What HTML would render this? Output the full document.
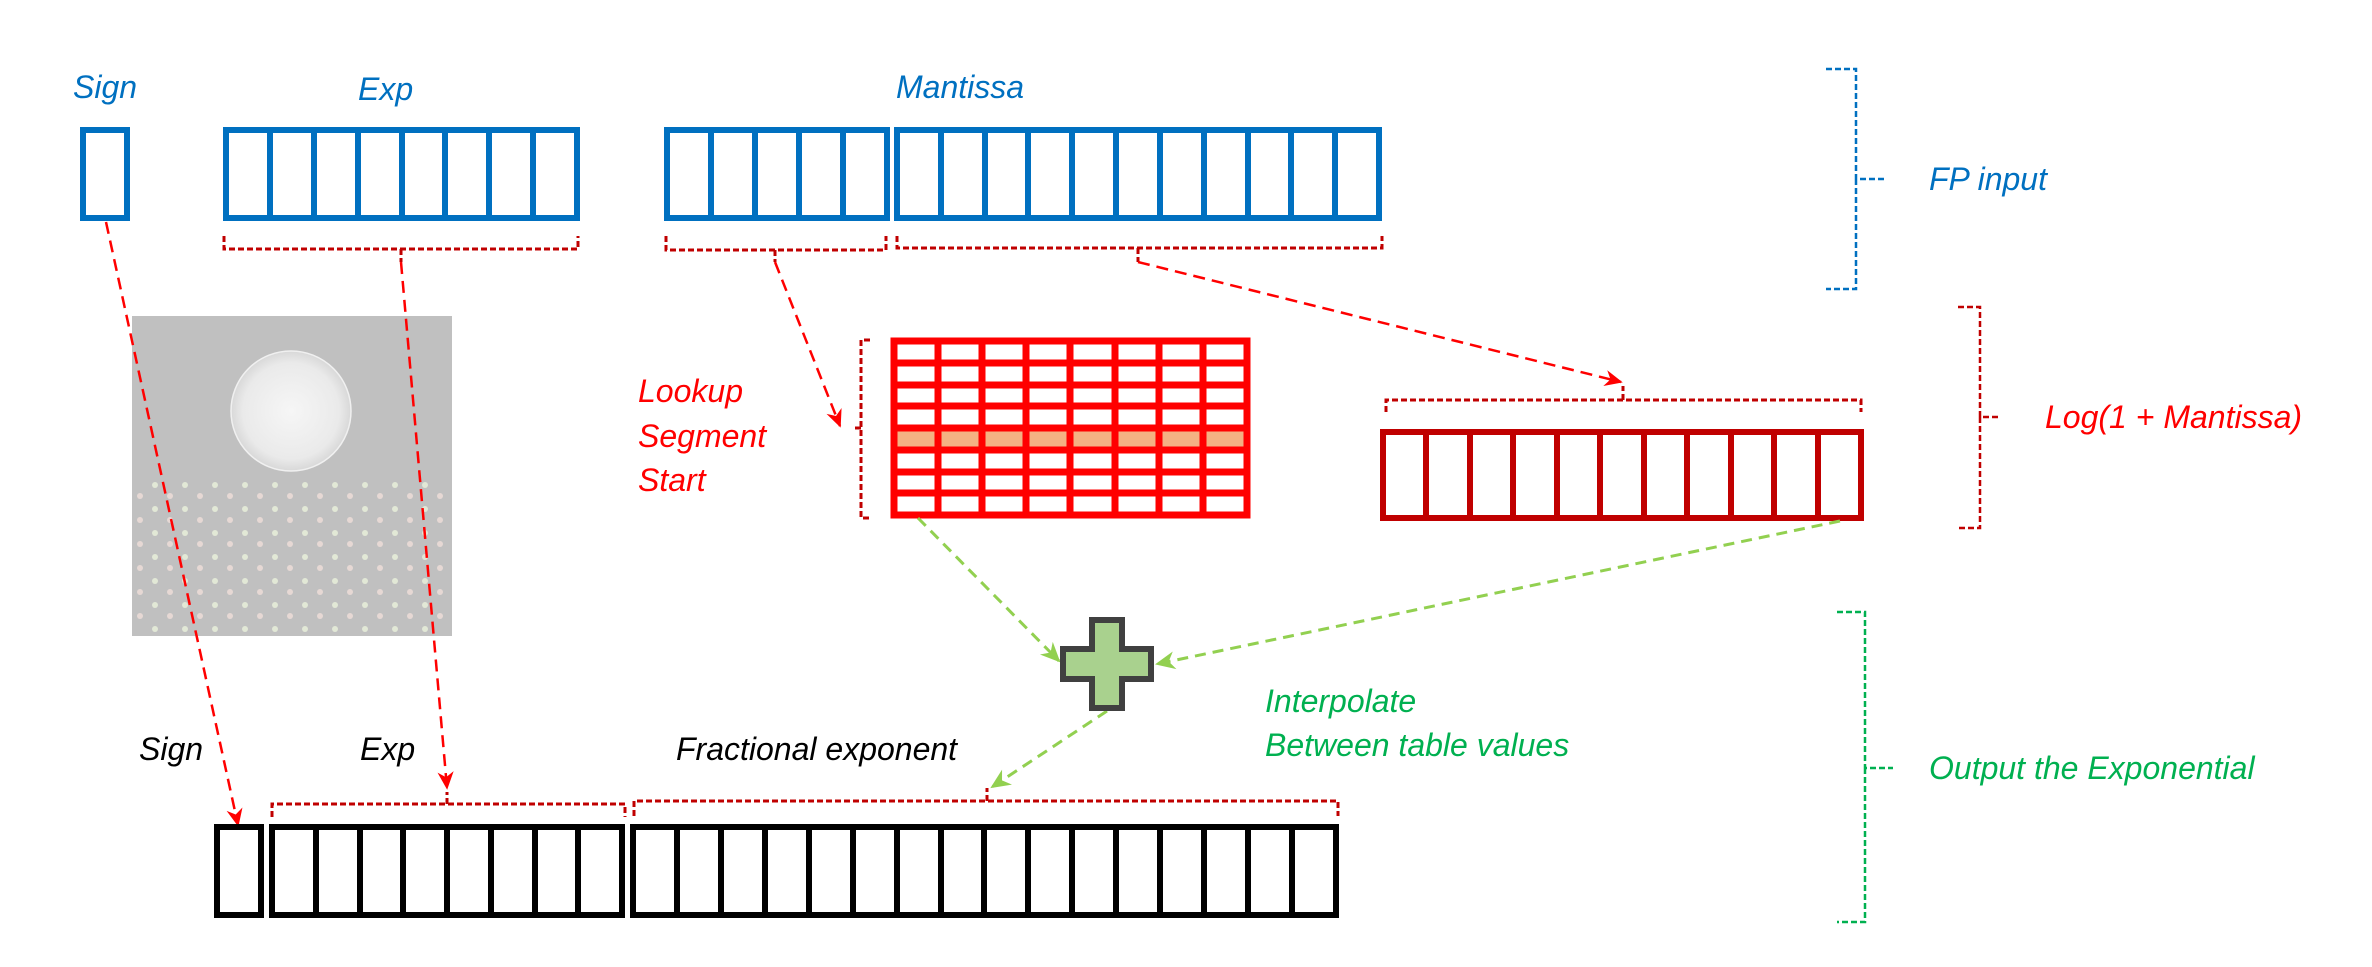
<!DOCTYPE html>
<html><head><meta charset="utf-8"><style>
html,body{margin:0;padding:0;background:#fff;}
svg{display:block;}
text{font-family:"Liberation Sans",sans-serif;font-style:italic;font-size:32px;}
</style></head><body>
<svg width="2372" height="967" viewBox="0 0 2372 967" xmlns="http://www.w3.org/2000/svg">
<defs>
<marker id="ar" viewBox="0 0 20 20" refX="18" refY="10" markerWidth="18" markerHeight="18" markerUnits="userSpaceOnUse" orient="auto" overflow="visible">
<path d="M0,1 L20,10 L0,19 L6,10 Z" fill="#ff0000"/></marker>
<marker id="ag" viewBox="0 0 20 20" refX="18" refY="10" markerWidth="20" markerHeight="20" markerUnits="userSpaceOnUse" orient="auto" overflow="visible">
<path d="M0,1 L20,10 L0,19 L6,10 Z" fill="#92d050"/></marker>
<radialGradient id="sph" cx="0.5" cy="0.5" r="0.5"><stop offset="0" stop-color="#f6f6f6"/><stop offset="0.8" stop-color="#eaeaea"/><stop offset="1" stop-color="#d8d8d8"/></radialGradient>
<pattern id="dots" width="30" height="24" patternUnits="userSpaceOnUse">
<circle cx="5" cy="5" r="3" fill="#e2e8d6"/><circle cx="20" cy="16" r="3" fill="#e6d8d4"/>
</pattern>
</defs>

<rect x="132" y="316" width="320" height="320" fill="#c0c0c0"/>
<rect x="132" y="478" width="320" height="158" fill="url(#dots)"/>
<circle cx="291" cy="411" r="60" fill="url(#sph)" stroke="#f0f0f0" stroke-width="1.5"/>

<text x="73" y="98" fill="#0070c0">Sign</text>
<text x="358" y="100" fill="#0070c0">Exp</text>
<text x="896" y="98" fill="#0070c0">Mantissa</text>

<g fill="none" stroke="#0070c0" stroke-width="6">
<rect x="83" y="130" width="44" height="88"/>
<rect x="226" y="130" width="351" height="88"/>
<path d="M270,130V218M314,130V218M358,130V218M402,130V218M445,130V218M489,130V218M533,130V218"/>
<rect x="667" y="130" width="220" height="88"/>
<path d="M711,130V218M755,130V218M799,130V218M843,130V218"/>
<rect x="897" y="130" width="482" height="88"/>
<path d="M941,130V218M985,130V218M1028,130V218M1072,130V218M1116,130V218M1160,130V218M1204,130V218M1248,130V218M1291,130V218M1335,130V218"/>
</g>

<g fill="none" stroke="#c00000" stroke-width="3" stroke-dasharray="6,3">
<path d="M224,236V249H578V236M401,249V262"/>
<path d="M666,236V250H886V236M775,250V262"/>
<path d="M897,236V248H1382V236M1138,248V262"/>
<path d="M1386,412V400H1861V412M1623,400V386"/>
<path d="M870,340H861V518H870M861,428H855"/>
<path d="M272,817V804H625V817M447,804V792"/>
<path d="M634,816V801H1338V816M987,801V788"/>
</g>

<g fill="none" stroke="#ff0000" stroke-width="2.5" stroke-dasharray="12,7">
<path d="M106,222L238,825" marker-end="url(#ar)"/>
<path d="M401,262L447,788" marker-end="url(#ar)"/>
<path d="M775,262L840,426" marker-end="url(#ar)"/>
<path d="M1138,262L1621,382" marker-end="url(#ar)"/>
</g>

<rect x="894" y="428" width="353" height="22" fill="#f4b183"/>
<g fill="none" stroke="#ff0000" stroke-width="7">
<rect x="894" y="341" width="353" height="174"/>
<path d="M938,341V515M982,341V515M1026,341V515M1070,341V515M1115,341V515M1159,341V515M1203,341V515"/>
<path d="M894,363H1247M894,385H1247M894,406H1247M894,428H1247M894,450H1247M894,472H1247M894,493H1247"/>
</g>
<text x="638" y="402" fill="#ff0000">Lookup</text>
<text x="638" y="447" fill="#ff0000">Segment</text>
<text x="638" y="491" fill="#ff0000">Start</text>

<g fill="none" stroke="#c00000" stroke-width="6">
<rect x="1383" y="432" width="478" height="86"/>
<path d="M1426,432V518M1470,432V518M1513,432V518M1557,432V518M1600,432V518M1644,432V518M1687,432V518M1731,432V518M1774,432V518M1818,432V518"/>
</g>

<g fill="none" stroke="#92d050" stroke-width="3" stroke-dasharray="11,7">
<path d="M918,518L1059,661" marker-end="url(#ag)"/>
<path d="M1840,521L1157,664" marker-end="url(#ag)"/>
<path d="M1107,711L992,787" marker-end="url(#ag)"/>
</g>

<path d="M1092,620H1122V649H1151V679H1122V708H1092V679H1063V649H1092Z" fill="#a9d18e" stroke="#404040" stroke-width="6"/>

<text x="1265" y="712" fill="#00b050">Interpolate</text>
<text x="1265" y="756" fill="#00b050">Between table values</text>

<text x="139" y="760" fill="#000">Sign</text>
<text x="360" y="760" fill="#000">Exp</text>
<text x="676" y="760" fill="#000">Fractional exponent</text>

<g fill="none" stroke="#000" stroke-width="6">
<rect x="217" y="827" width="44" height="88"/>
<rect x="272" y="827" width="350" height="88"/>
<path d="M316,827V915M360,827V915M403,827V915M447,827V915M491,827V915M535,827V915M578,827V915"/>
<rect x="633" y="827" width="703" height="88"/>
<path d="M677,827V915M721,827V915M765,827V915M809,827V915M853,827V915M897,827V915M941,827V915M984,827V915M1028,827V915M1072,827V915M1116,827V915M1160,827V915M1204,827V915M1248,827V915M1292,827V915"/>
</g>

<g fill="none" stroke-width="2.5" stroke-dasharray="6,3">
<path d="M1826,69H1856V179H1884M1856,179V289H1826" stroke="#0070c0"/>
<path d="M1958,307H1980V417H2001M1980,417V528H1958" stroke="#c00000"/>
<path d="M1837,612H1865V768H1893M1865,768V922H1837" stroke="#00b050"/>
</g>
<text x="1929" y="190" fill="#0070c0">FP input</text>
<text x="2045" y="428" fill="#ff0000">Log(1 + Mantissa)</text>
<text x="1929" y="779" fill="#00b050">Output the Exponential</text>
</svg>
</body></html>
